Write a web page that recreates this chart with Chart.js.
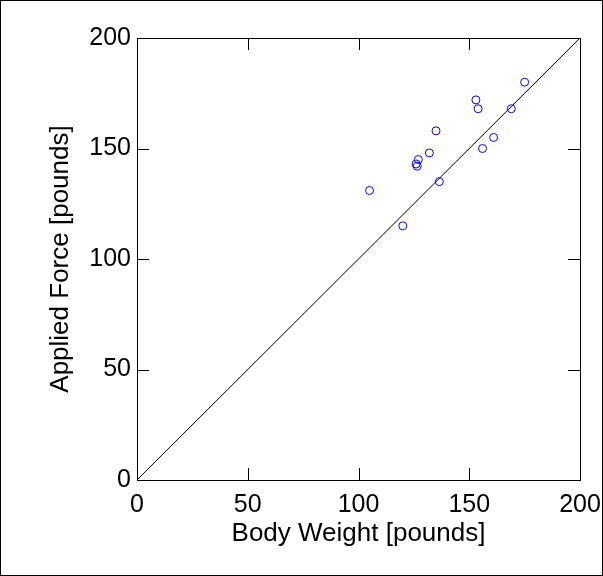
<!DOCTYPE html>
<html>
<head>
<meta charset="utf-8">
<script src="https://cdn.jsdelivr.net/npm/chart.js@4.4.0/dist/chart.umd.min.js"></script>
<style>
  body { margin: 0; background: #fff; }
  #wrap { width: 601px; height: 574px; border: 1px solid #000; }
</style>
</head>
<body>
<div id="wrap"><canvas id="mycanvas" width="601" height="574"></canvas></div>
<script>
// body weight vs applied force, both in pounds
var bodyWeight   = [175, 153, 154, 169, 135, 161, 156, 132, 127, 126, 126.5, 136.5, 105, 120];
var appliedForce = [180, 172, 168, 168, 158, 155, 150, 148, 145, 143, 142, 135, 131, 115];
var refLineX = [0, 200];
var refLineY = [0, 200];
var tickValues = [0, 50, 100, 150, 200];

var points = [];
for (var i in bodyWeight) {
  points.push({ x: bodyWeight[i], y: appliedForce[i] });
}
var refLine = [];
for (var j in refLineX) {
  refLine.push({ x: refLineX[j], y: refLineY[j] });
}

var fontFamily = "'Liberation Sans', Arial, sans-serif";

// box around the plot plus inward ticks on all four sides
var boxTicks = {
  id: 'boxTicks',
  afterDraw: function(chart) {
    var ctx = chart.ctx;
    var a = chart.chartArea;
    var xs = chart.scales.x, ys = chart.scales.y;
    var len = 12;
    ctx.save();
    ctx.strokeStyle = '#000';
    ctx.lineWidth = 1;
    ctx.strokeRect(a.left + 0.5, a.top + 0.5, a.right - a.left, a.bottom - a.top);
    ctx.beginPath();
    tickValues.forEach(function(v) {
      var px = Math.round(xs.getPixelForValue(v)) + 0.5;
      ctx.moveTo(px, a.bottom); ctx.lineTo(px, a.bottom - len);
      ctx.moveTo(px, a.top); ctx.lineTo(px, a.top + len);
      var py = Math.round(ys.getPixelForValue(v)) + 0.5;
      ctx.moveTo(a.left, py); ctx.lineTo(a.left + len, py);
      ctx.moveTo(a.right, py); ctx.lineTo(a.right - len, py);
    });
    ctx.stroke();
    ctx.restore();
  }
};

var ctx = document.getElementById('mycanvas');
var chart = new Chart(ctx, {
  type: 'scatter',
  data: {
    datasets: [
      {
        label: 'Measurements',
        data: points,
        pointStyle: 'circle',
        pointRadius: 4,
        pointBorderColor: '#0000ff',
        pointBackgroundColor: 'rgba(0,0,0,0)',
        pointBorderWidth: 1
      },
      {
        type: 'line',
        label: 'y = x',
        data: refLine,
        borderColor: '#000',
        borderWidth: 1,
        pointRadius: 0,
        fill: false
      }
    ]
  },
  options: {
    responsive: false,
    animation: false,
    layout: { padding: { top: 37, right: 22, left: 40, bottom: 22 } },
    plugins: { legend: { display: false }, tooltip: { enabled: false } },
    scales: {
      x: {
        type: 'linear',
        min: 0, max: 200,
        afterBuildTicks: function(s) { s.ticks = tickValues.map(function(v) { return { value: v }; }); },
        afterFit: function(s) { s.height = 574 - 479 - 22; s.paddingLeft = 0; s.paddingRight = 0; },
        grid: { display: false, drawTicks: false },
        border: { display: false },
        ticks: { color: '#000', padding: 10, maxRotation: 0, font: { family: fontFamily, size: 25 } },
        title: { display: true, text: 'Body Weight [pounds]', color: '#000', padding: { top: 0 }, font: { family: fontFamily, size: 26 } }
      },
      y: {
        type: 'linear',
        min: 0, max: 200,
        afterBuildTicks: function(s) { s.ticks = tickValues.map(function(v) { return { value: v }; }); },
        afterFit: function(s) { s.width = 96; s.paddingTop = 0; s.paddingBottom = 0; },
        grid: { display: false, drawTicks: false },
        border: { display: false },
        ticks: { color: '#000', padding: 6, font: { family: fontFamily, size: 25 } },
        title: { display: true, text: 'Applied Force [pounds]', color: '#000', padding: { bottom: 10 }, font: { family: fontFamily, size: 26 } }
      }
    }
  },
  plugins: [boxTicks]
});
</script>
</body>
</html>
